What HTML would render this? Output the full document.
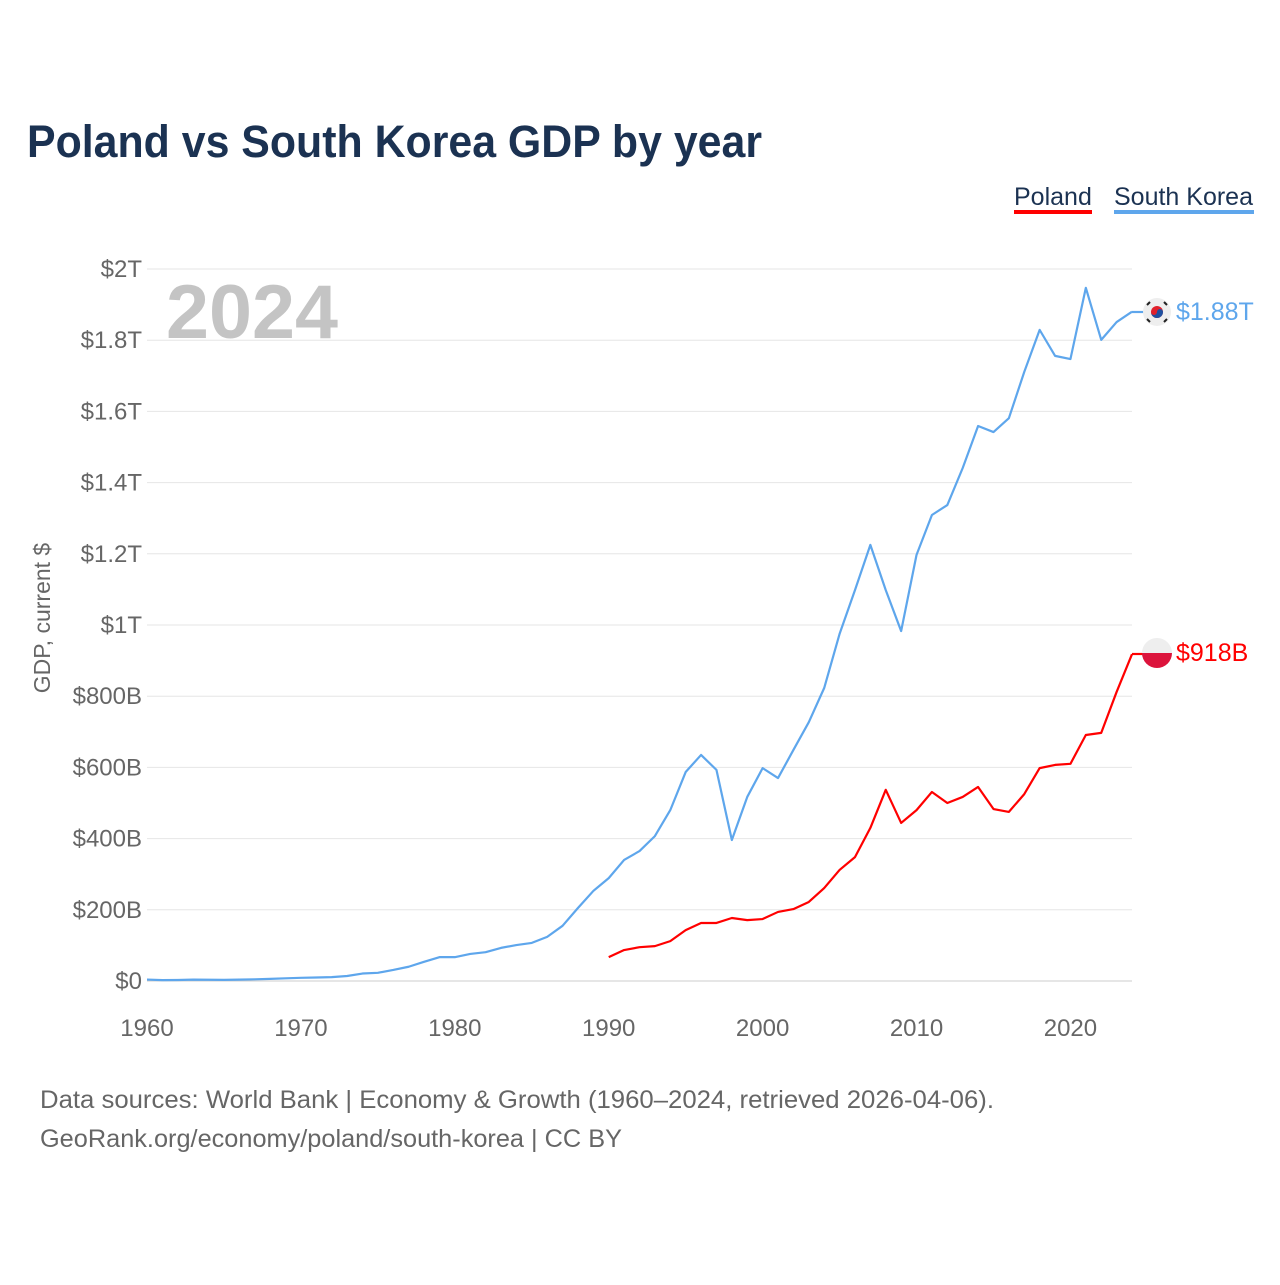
<!DOCTYPE html>
<html><head><meta charset="utf-8">
<style>
body{margin:0;width:1280px;height:1280px;background:#fff;font-family:"Liberation Sans",sans-serif;overflow:hidden}
</style></head>
<body>
<svg width="1280" height="1280" xmlns="http://www.w3.org/2000/svg">
<text x="27" y="157" font-size="45" font-weight="bold" fill="#1b3252" textLength="735" lengthAdjust="spacingAndGlyphs">Poland vs South Korea GDP by year</text>
<g>
<text x="1014" y="205" font-size="25" fill="#1b3252">Poland</text>
<rect x="1014" y="210" width="78" height="4" fill="#ff0000"/>
<text x="1114" y="205" font-size="25" fill="#1b3252">South Korea</text>
<rect x="1114" y="210" width="140" height="4" fill="#5ea6ec"/>
</g>
<g id="grid"></g>
<text x="166" y="338" font-size="76" font-weight="bold" fill="#c4c4c4" textLength="172" lengthAdjust="spacingAndGlyphs">2024</text>
<text transform="translate(50,618) rotate(-90)" text-anchor="middle" font-size="23" fill="#666">GDP, current $</text>
<g id="series"></g>
<line x1="1132" y1="312" x2="1144" y2="312" stroke="#5ea6ec" stroke-width="2.2"/>
<line x1="1132" y1="654" x2="1144" y2="654" stroke="#ff0000" stroke-width="2.2"/>
<g>
<circle cx="1157" cy="312" r="14" fill="#eee"/>
<circle cx="1157" cy="312" r="6" fill="#e0202b"/>
<path d="M1151,312 a6,6 0 0 0 12,0 a3,3 0 0 0 -6,0 a3,3 0 0 1 -6,0z" fill="#1e50a0"/>
<g stroke="#222" stroke-width="2"><line x1="1147" y1="305" x2="1150" y2="302"/><line x1="1164" y1="302" x2="1167" y2="305"/><line x1="1147" y1="319" x2="1150" y2="322"/><line x1="1164" y1="322" x2="1167" y2="319"/></g>
</g>
<g>
<clipPath id="pc"><circle cx="1157" cy="653" r="15"/></clipPath>
<g clip-path="url(#pc)"><rect x="1140" y="636" width="34" height="17" fill="#eee"/><rect x="1140" y="653" width="34" height="17" fill="#dc143c"/></g>
</g>
<text x="1176" y="320" font-size="25" fill="#5ea6ec">$1.88T</text>
<text x="1176" y="661" font-size="25" fill="#ff0000">$918B</text>
<text x="40" y="1108" font-size="25" fill="#666" textLength="954" lengthAdjust="spacingAndGlyphs">Data sources: World Bank | Economy &amp; Growth (1960–2024, retrieved 2026-04-06).</text>
<text x="40" y="1147" font-size="25" fill="#666" textLength="582" lengthAdjust="spacingAndGlyphs">GeoRank.org/economy/poland/south-korea | CC BY</text>
</svg>
<script>
const years=[];for(let y=1960;y<=2024;y++)years.push(y);
const koreaGdp=[4,2.5,2.8,3.9,3.5,3.1,3.8,4.7,5.9,7.5,9,9.9,10.8,14,21,23,31,40,54,67,67,76,81,93,101,107,124,155,205,253,289,340,365,407,480,587,635,593,396,517,598,570,649,727,823,975,1098,1225,1098,983,1197,1309,1337,1441,1559,1542,1581,1711,1829,1756,1747,1947,1801,1851,1880];
const polandYears=[];for(let y=1990;y<=2024;y++)polandYears.push(y);
const polandGdp=[67,87,95,98,112,143,163,163,177,171,174,194,202,222,261,312,348,430,537,444,480,531,500,517,545,483,475,525,598,607,610,691,697,812,918];
const yTicks=[0,200,400,600,800,1000,1200,1400,1600,1800,2000];
const yTickLabels=["$0","$200B","$400B","$600B","$800B","$1T","$1.2T","$1.4T","$1.6T","$1.8T","$2T"];
const xTicks=[1960,1970,1980,1990,2000,2010,2020];
const NS="http://www.w3.org/2000/svg";
const xs=y=>147+(y-1960)*(1132-147)/64;
const ys=v=>981-v*(981-269)/2000;
const grid=document.getElementById('grid');
yTicks.forEach((t,i)=>{
 const l=document.createElementNS(NS,'line');
 l.setAttribute('x1',147);l.setAttribute('x2',1132);l.setAttribute('y1',ys(t));l.setAttribute('y2',ys(t));
 l.setAttribute('stroke',t===0?'#ccc':'#e6e6e6');
 
 
 grid.appendChild(l);
 const tx=document.createElementNS(NS,'text');
 tx.setAttribute('x',142);tx.setAttribute('y',ys(t)+8);tx.setAttribute('text-anchor','end');
 tx.setAttribute('font-size','24');tx.setAttribute('fill','#666');tx.textContent=yTickLabels[i];
 
 
 grid.appendChild(tx);
});
xTicks.forEach(t=>{
 const tx=document.createElementNS(NS,'text');
 tx.setAttribute('x',xs(t));tx.setAttribute('y',1036);tx.setAttribute('text-anchor','middle');
 tx.setAttribute('font-size','24');tx.setAttribute('fill','#666');tx.textContent=t;
 
 
 grid.appendChild(tx);
});
const ser=document.getElementById('series');
function line(xv,yv,color,name){
 const p=document.createElementNS(NS,'polyline');
 p.setAttribute('points',xv.map((x,i)=>xs(x)+','+ys(yv[i])).join(' '));
 p.setAttribute('fill','none');p.setAttribute('stroke',color);p.setAttribute('stroke-width','2.2');
 p.setAttribute('stroke-linejoin','round');
 
 
 ser.appendChild(p);
}
line(years,koreaGdp,'#5ea6ec','south-korea-line');
line(polandYears,polandGdp,'#ff0000','poland-line');
</script>
</body></html>
